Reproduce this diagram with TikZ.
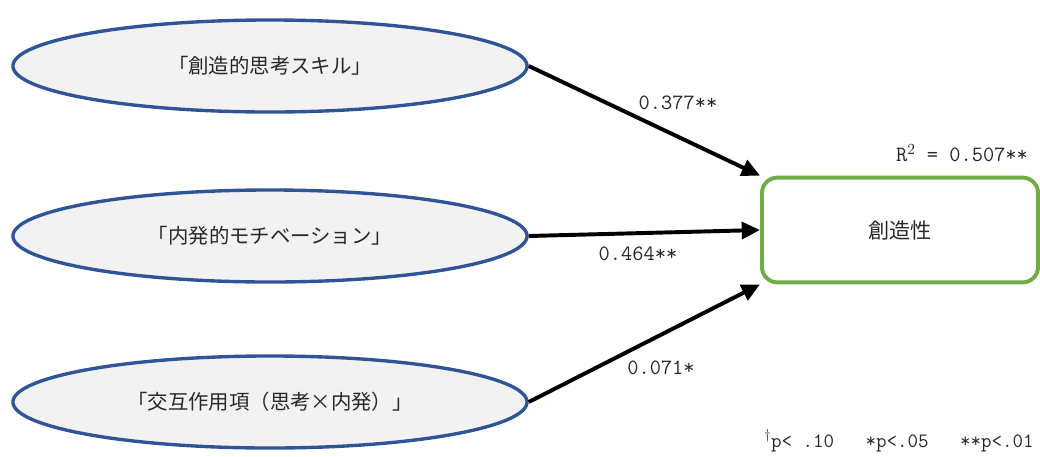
\documentclass[tikz,border=0pt]{standalone}
\usepackage{fontspec}
\newfontfamily\jp{Noto Sans CJK JP}
\usetikzlibrary{arrows.meta,shapes.geometric}
\definecolor{ovalblue}{RGB}{47,85,151}
\definecolor{ovalfill}{RGB}{242,242,242}
\definecolor{boxgreen}{RGB}{112,173,71}
\definecolor{inkgray}{RGB}{40,40,40}
\tikzset{
  factor/.style={ellipse,draw=ovalblue,fill=ovalfill,line width=2.4pt,
    minimum width=12.85cm,minimum height=2.3cm,inner sep=0pt,text=inkgray,
    font=\jp\fontsize{14.5}{17}\selectfont},
  outcome/.style={rectangle,rounded corners=11pt,draw=boxgreen,line width=2.8pt,
    minimum width=6.9cm,minimum height=2.62cm,text=inkgray,
    font=\jp\fontsize{15}{18}\selectfont},
  effect/.style={line width=2.8pt,-{Triangle[length=13pt,width=12pt]}},
  coef/.style={font=\ttfamily\fontsize{15.5}{18}\selectfont,inner sep=0pt,text=inkgray}
}
\begin{document}
\begin{tikzpicture}[x=0.025cm,y=-0.025cm]
  \useasboundingbox (0,0) rectangle (1040,456);
  % predictors
  \node[factor] (think) at (270,66) {「創造的思考スキル」};
  \node[factor] (motiv) at (270,236) {「内発的モチベーション」};
  \node[factor] (inter) at (270,402) {「交互作用項（思考×内発）」};
  % outcome
  \node[outcome] (creat) at (900,230) {創造性};
  % paths
  \draw[effect] (think.east) -- (creat.north west);
  \draw[effect] (motiv.east) -- (creat.west);
  \draw[effect] (inter.east) -- (creat.south west);
  % coefficients
  \node[coef] (c1) at (678,103) {0.377**};
  \node[coef] (c2) at (638,254) {0.464**};
  \node[coef] (c3) at (661,368) {0.071*};
  \node[coef] (r2) at (962,153) {R$^2$ = 0.507**};
  \node[coef,anchor=east,font=\ttfamily\fontsize{14.5}{17}\selectfont]
    (note) at (1034,441) {$^\dagger$p< .10\ \ \ *p<.05\ \ \ **p<.01};
\end{tikzpicture}
\end{document}
